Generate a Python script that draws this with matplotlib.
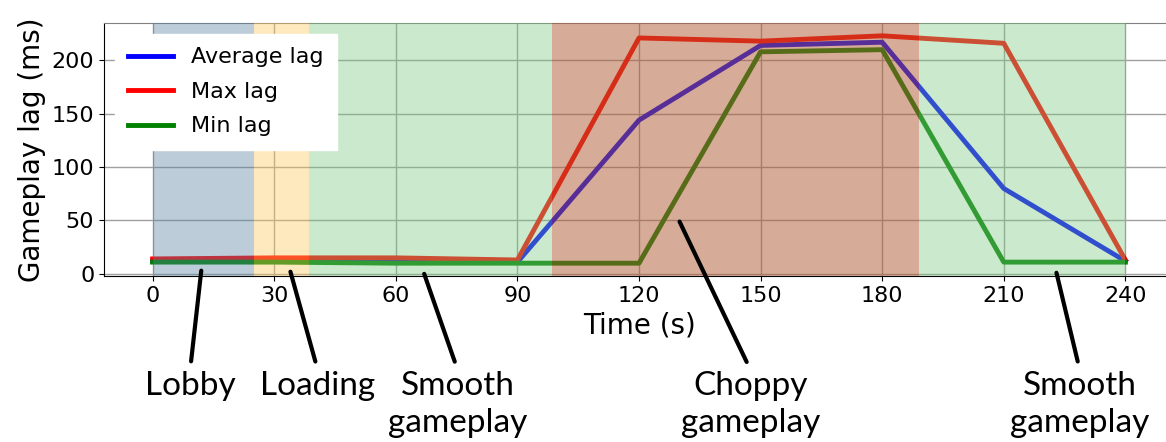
import numpy as np
import matplotlib
matplotlib.use('Agg')
import matplotlib.pyplot as plt


time_s = [0, 30, 60, 90, 120, 150, 180, 210, 240]
avg_lag = [12, 12, 11, 11, 144, 214, 217, 80, 12]
max_lag = [14, 15, 15, 13, 221, 218, 223, 216, 13]
min_lag = [11, 11, 10, 10, 10, 208, 210, 11, 11]

# phases: (start, end, colour, alpha)
phase_start = [0, 25, 38.5, 98.5, 189]
phase_end = [25, 38.5, 98.5, 189, 240]
phase_col = ['#5884a2', '#fac85c', '#7dc882', '#af5a32', '#7dc882']
phase_alpha = [0.4, 0.4, 0.4, 0.5, 0.4]

# annotations: label, point on chart (data), text centre x in figure pixels
ann_labels = ['Lobby', 'Loading', 'Smooth\ngameplay', 'Choppy\ngameplay', 'Smooth\ngameplay']
ann_xy = [(12, 3), (34, 2), (67, 0), (130, 49), (223, 1)]
ann_textx = [190, 318, 458, 751, 1080]

fig = plt.figure(figsize=(11.66, 4.42), dpi=100)
ax = fig.add_axes([104 / 1166, 166 / 442, 1070 / 1166, 253 / 442])

ax.grid(True, color='#a0a0a0', lw=1.0, zorder=0)
ax.set_axisbelow(True)

ax.plot(time_s, avg_lag, color='blue', lw=3.5, label='Average lag', zorder=2)
ax.plot(time_s, max_lag, color='red', lw=3.5, label='Max lag', zorder=2)
ax.plot(time_s, min_lag, color='green', lw=3.5, label='Min lag', zorder=2)

for s, e, c, a in zip(phase_start, phase_end, phase_col, phase_alpha):
    ax.axvspan(s, e, color=c, alpha=a, lw=0, zorder=3)

ax.set_xlim(-12, 252)
ax.set_ylim(-2, 235)
ax.set_xticks(np.arange(0, 241, 30))
ax.set_yticks(np.arange(0, 201, 50))
ax.tick_params(labelsize=16)
ax.set_xlabel('Time (s)', fontsize=20, labelpad=4)
ax.set_ylabel('Gameplay lag (ms)', fontsize=20)
ax.spines['top'].set_color('#808080')

leg = ax.legend(loc='upper left', fontsize=16, framealpha=1, edgecolor='white',
                fancybox=False, labelspacing=0.65, borderpad=0.6,
                handletextpad=0.8, borderaxespad=0.5)
leg.set_zorder(5)
for h in leg.get_lines():
    h.set_linewidth(3.5)

for lab, xy, tx in zip(ann_labels, ann_xy, ann_textx):
    ax.annotate(lab, xy=xy, xycoords='data',
                xytext=(tx, 442 - 371), textcoords='figure pixels',
                ha='center', va='top', fontsize=24, family=['Lato', 'DejaVu Sans'],
                linespacing=1.3,
                arrowprops=dict(arrowstyle='-', color='black', lw=3,
                                relpos=(0.5, 1.0), shrinkA=5, shrinkB=0),
                annotation_clip=False, zorder=6)

fig.savefig('out.png', dpi=100)
